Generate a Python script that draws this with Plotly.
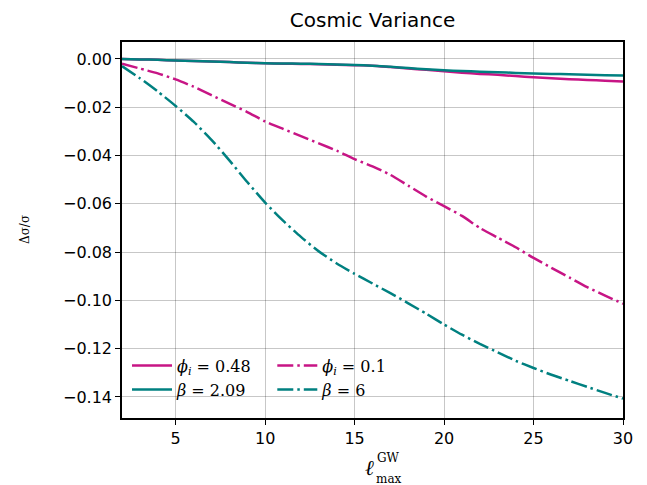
import plotly.graph_objects as go

ell = list(range(2, 31))

phi_048 = [0.0, -0.0002, -0.0004, -0.0007, -0.0009, -0.0011, -0.0013, -0.0016, -0.0018,
           -0.0020, -0.0021, -0.0022, -0.0024, -0.0026, -0.0028, -0.0034, -0.0040, -0.0045,
           -0.0051, -0.0057, -0.0062, -0.0066, -0.0071, -0.0076, -0.0080, -0.0084, -0.0087,
           -0.0090, -0.0094]
beta_209 = [0.0, -0.0002, -0.0004, -0.0007, -0.0009, -0.0011, -0.0013, -0.0016, -0.0018,
            -0.0019, -0.0020, -0.0021, -0.0023, -0.0025, -0.0028, -0.0033, -0.0038, -0.0043,
            -0.0047, -0.0050, -0.0053, -0.0055, -0.0058, -0.0060, -0.0062, -0.0064, -0.0066,
            -0.0068, -0.0069]
phi_01 = [-0.002, -0.004, -0.006, -0.0085, -0.0115, -0.015, -0.0185, -0.022, -0.0259,
          -0.029, -0.032, -0.035, -0.038, -0.0415, -0.0445, -0.048, -0.0525, -0.057,
          -0.061, -0.065, -0.070, -0.074, -0.078, -0.0824, -0.0865, -0.0905, -0.0945,
          -0.098, -0.1014]
beta_6 = [-0.003, -0.008, -0.0135, -0.0195, -0.026, -0.0335, -0.042, -0.051, -0.0595,
          -0.067, -0.0737, -0.0797, -0.0847, -0.089, -0.093, -0.097, -0.1012, -0.1055,
          -0.110, -0.1142, -0.118, -0.1215, -0.125, -0.128, -0.1308, -0.1333, -0.1358,
          -0.1383, -0.1407]

y_ticks = [0.0, -0.02, -0.04, -0.06, -0.08, -0.10, -0.12, -0.14]
x_ticks = [5, 10, 15, 20, 25, 30]

MAG = "#C71585"
TEAL = "#008080"
DASHDOT = "16px,4px,2.5px,4px"

fig = go.Figure()
fig.add_trace(go.Scatter(x=ell, y=phi_048, mode="lines", name="<i>ϕ<sub>i</sub></i> = 0.48",
                         line=dict(color=MAG, width=2.5, shape="spline", smoothing=0.6),
                         legend="legend"))
fig.add_trace(go.Scatter(x=ell, y=beta_209, mode="lines", name="<i>β</i> = 2.09",
                         line=dict(color=TEAL, width=2.5, shape="spline", smoothing=0.6),
                         legend="legend"))
fig.add_trace(go.Scatter(x=ell, y=phi_01, mode="lines", name="<i>ϕ<sub>i</sub></i> = 0.1",
                         line=dict(color=MAG, width=2.5, dash=DASHDOT, shape="spline", smoothing=0.6),
                         legend="legend2"))
fig.add_trace(go.Scatter(x=ell, y=beta_6, mode="lines", name="<i>β</i> = 6",
                         line=dict(color=TEAL, width=2.5, dash=DASHDOT, shape="spline", smoothing=0.6),
                         legend="legend2"))

axis_common = dict(showline=True, linecolor="black", linewidth=1.5, mirror=True,
                   ticks="outside", ticklen=5, tickcolor="black", tickwidth=1.2,
                   showgrid=True, gridcolor="rgba(0,0,0,0.22)", gridwidth=1,
                   zeroline=False, tickfont=dict(family="DejaVu Sans", size=16, color="black"))

fig.update_xaxes(range=[2, 30], tickvals=x_ticks, **axis_common)
fig.update_yaxes(range=[-0.1487, 0.007], tickvals=y_ticks, tickformat=".2f", **axis_common)

legend_common = dict(bgcolor="rgba(255,255,255,0)", borderwidth=0,
                     font=dict(family="DejaVu Serif", size=16, color="black"),
                     xanchor="left", yanchor="bottom", itemwidth=40, tracegroupgap=0)

ann_font = dict(family="DejaVu Serif", color="black")
fig.update_layout(
    width=647, height=485,
    margin=dict(l=114, r=32, t=34, b=75, autoexpand=False),
    paper_bgcolor="white", plot_bgcolor="white",
    title=dict(text="Cosmic Variance", x=0.5, xref="paper", xanchor="center",
               y=1 - 12 / 485, yanchor="middle",
               font=dict(family="DejaVu Sans", size=20, color="black")),
    legend=dict(x=0.01, y=0.03, **legend_common),
    legend2=dict(x=0.3, y=0.03, **legend_common),
    annotations=[
        dict(text="<i>ℓ</i>", x=0.5, y=0, xref="paper", yref="paper", showarrow=False,
             xanchor="center", yanchor="middle", xshift=-3, yshift=-50,
             font=dict(size=21, **ann_font)),
        dict(text="GW", x=0.5, y=0, xref="paper", yref="paper", showarrow=False,
             xanchor="center", yanchor="middle", xshift=16, yshift=-40,
             font=dict(size=12, **ann_font)),
        dict(text="max", x=0.5, y=0, xref="paper", yref="paper", showarrow=False,
             xanchor="center", yanchor="middle", xshift=16, yshift=-61,
             font=dict(size=12, **ann_font)),
        dict(text="Δσ/σ", x=0, y=0.5, xref="paper", yref="paper", showarrow=False,
             xanchor="center", yanchor="middle", xshift=-97,
             textangle=-90, font=dict(size=12, **ann_font)),
    ],
)

fig.write_html("out.html")
